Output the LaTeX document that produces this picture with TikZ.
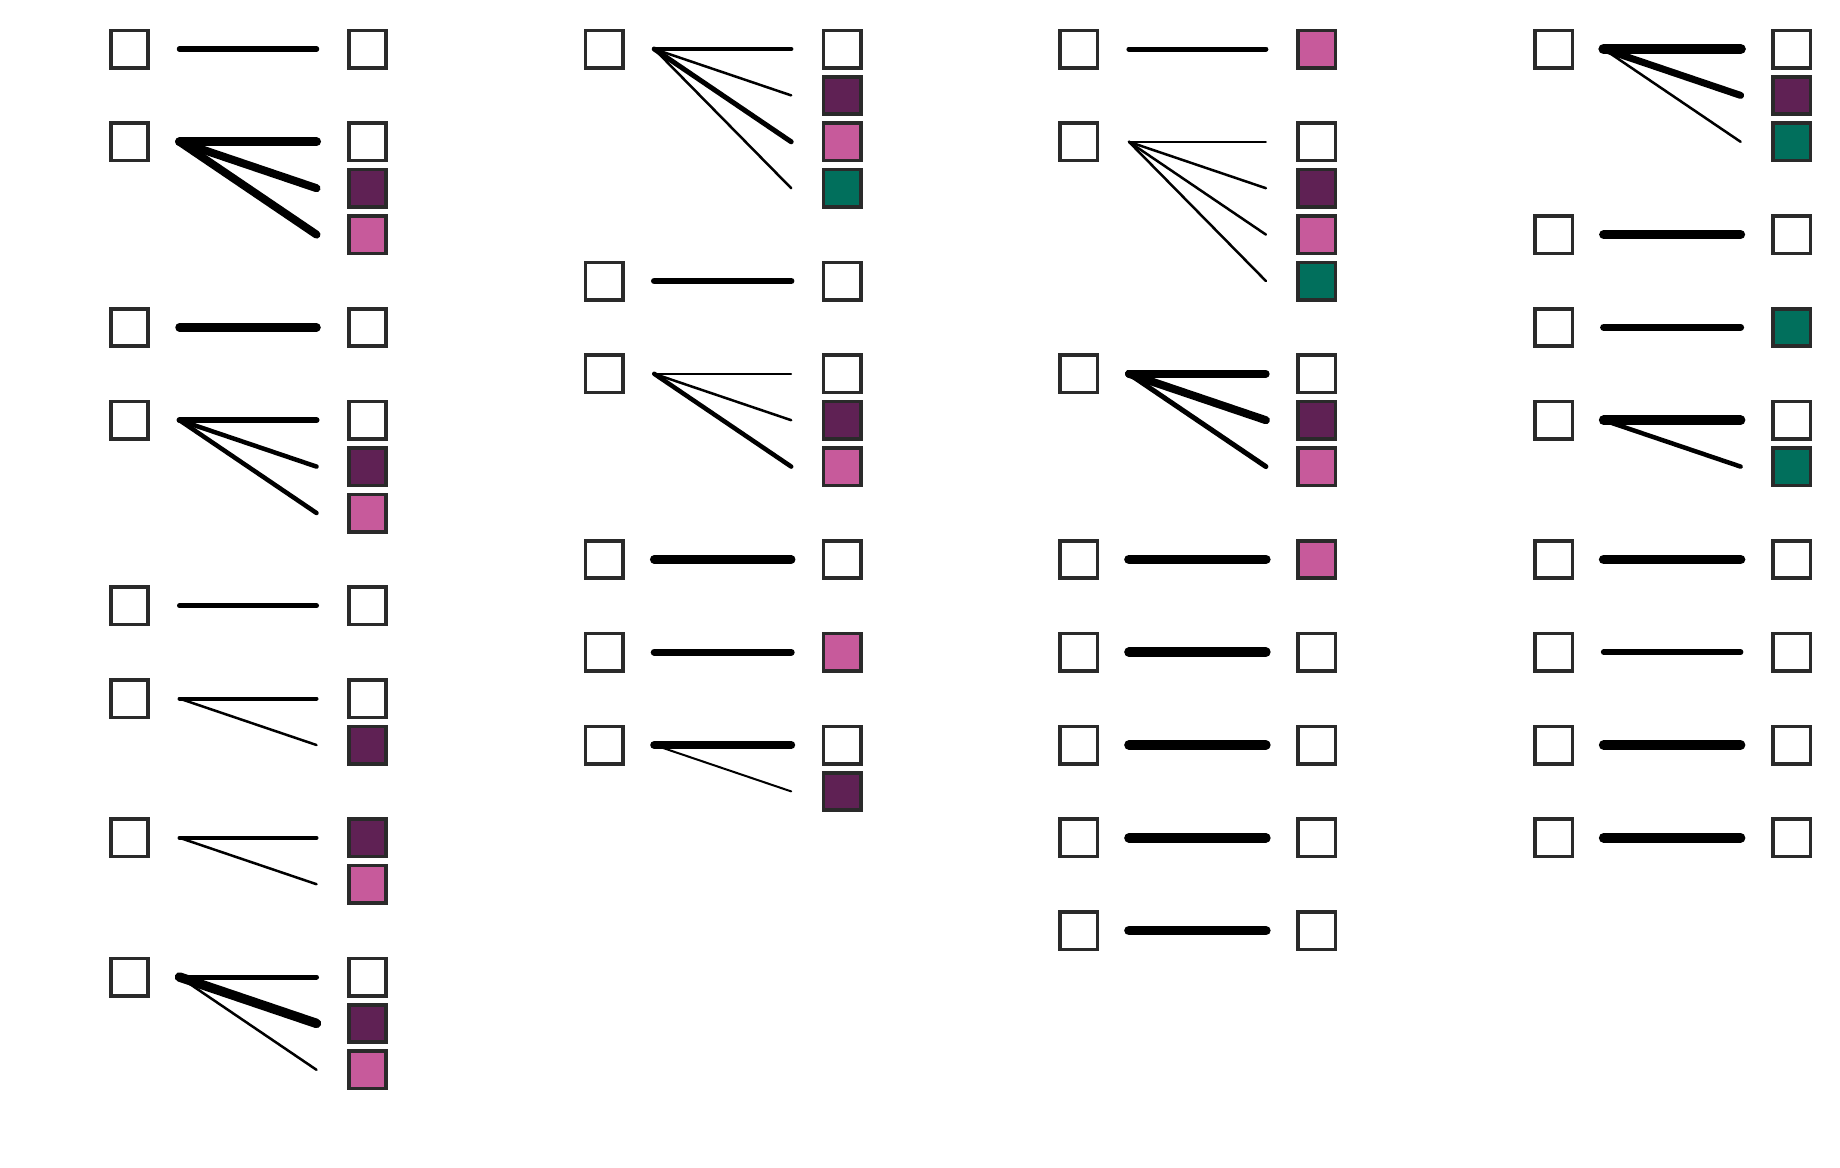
\documentclass[tikz,border=0pt]{standalone}
\definecolor{boxgray}{HTML}{2A2A2A}
\definecolor{purp}{HTML}{5F2154}
\definecolor{pinkc}{HTML}{C75A9B}
\definecolor{greenc}{HTML}{016F5C}
\tikzset{
  wb/.style={rectangle, draw=boxgray, line width=1.8pt, fill=white, minimum size=18.7pt, inner sep=0pt},
  pb/.style={wb, fill=purp},
  kb/.style={wb, fill=pinkc},
  gb/.style={wb, fill=greenc},
  lnk/.style={line cap=round, draw=black}
}
% source box: name, column, half-row
\newcommand\srcnode[3]{\node[wb] (#1) at ({129.5+474.7*#2},{49+46.4*#3}) {};}
% target box: name, column, half-row, style
\newcommand\dstnode[4]{\node[#4] (#1) at ({367.5+474.7*#2},{49+46.4*#3}) {};}
% connector: from, to, width
\newcommand\lnkk[3]{\draw[lnk, line width=#3] ([xshift=25pt]#1.center) -- ([xshift=-25.5pt]#2.center);}
\begin{document}
\begin{tikzpicture}[x=0.5pt, y=-0.5pt]
\fill[white] (0,0) rectangle (1840,1167);
\useasboundingbox (0,0) rectangle (1840,1167);
% ---------- column 0 ----------
\srcnode{a1}{0}{0} \dstnode{a1w}{0}{0}{wb}
\lnkk{a1}{a1w}{2.75pt}
\srcnode{a2}{0}{2} \dstnode{a2w}{0}{2}{wb} \dstnode{a2p}{0}{3}{pb} \dstnode{a2k}{0}{4}{kb}
\lnkk{a2}{a2w}{4.5pt} \lnkk{a2}{a2p}{4pt} \lnkk{a2}{a2k}{4pt}
\srcnode{a3}{0}{6} \dstnode{a3w}{0}{6}{wb}
\lnkk{a3}{a3w}{4.25pt}
\srcnode{a4}{0}{8} \dstnode{a4w}{0}{8}{wb} \dstnode{a4p}{0}{9}{pb} \dstnode{a4k}{0}{10}{kb}
\lnkk{a4}{a4w}{3pt} \lnkk{a4}{a4p}{2.25pt} \lnkk{a4}{a4k}{2.25pt}
\srcnode{a5}{0}{12} \dstnode{a5w}{0}{12}{wb}
\lnkk{a5}{a5w}{2.5pt}
\srcnode{a6}{0}{14} \dstnode{a6w}{0}{14}{wb} \dstnode{a6p}{0}{15}{pb}
\lnkk{a6}{a6w}{2pt} \lnkk{a6}{a6p}{1.25pt}
\srcnode{a7}{0}{17} \dstnode{a7p}{0}{17}{pb} \dstnode{a7k}{0}{18}{kb}
\lnkk{a7}{a7p}{2pt} \lnkk{a7}{a7k}{1.25pt}
\srcnode{a8}{0}{20} \dstnode{a8w}{0}{20}{wb} \dstnode{a8p}{0}{21}{pb} \dstnode{a8k}{0}{22}{kb}
\lnkk{a8}{a8w}{2.5pt} \lnkk{a8}{a8p}{4.75pt} \lnkk{a8}{a8k}{1.25pt}
% ---------- column 1 ----------
\srcnode{b1}{1}{0} \dstnode{b1w}{1}{0}{wb} \dstnode{b1p}{1}{1}{pb} \dstnode{b1k}{1}{2}{kb} \dstnode{b1g}{1}{3}{gb}
\lnkk{b1}{b1w}{2.25pt} \lnkk{b1}{b1p}{1.25pt} \lnkk{b1}{b1k}{2.5pt} \lnkk{b1}{b1g}{1.25pt}
\srcnode{b2}{1}{5} \dstnode{b2w}{1}{5}{wb}
\lnkk{b2}{b2w}{3.25pt}
\srcnode{b3}{1}{7} \dstnode{b3w}{1}{7}{wb} \dstnode{b3p}{1}{8}{pb} \dstnode{b3k}{1}{9}{kb}
\lnkk{b3}{b3w}{0.85pt} \lnkk{b3}{b3p}{1.25pt} \lnkk{b3}{b3k}{2.25pt}
\srcnode{b4}{1}{11} \dstnode{b4w}{1}{11}{wb}
\lnkk{b4}{b4w}{4.25pt}
\srcnode{b5}{1}{13} \dstnode{b5k}{1}{13}{kb}
\lnkk{b5}{b5k}{3.5pt}
\srcnode{b6}{1}{15} \dstnode{b6w}{1}{15}{wb} \dstnode{b6p}{1}{16}{pb}
\lnkk{b6}{b6w}{4pt} \lnkk{b6}{b6p}{1pt}
% ---------- column 2 ----------
\srcnode{c1}{2}{0} \dstnode{c1k}{2}{0}{kb}
\lnkk{c1}{c1k}{2.5pt}
\srcnode{c2}{2}{2} \dstnode{c2w}{2}{2}{wb} \dstnode{c2p}{2}{3}{pb} \dstnode{c2k}{2}{4}{kb} \dstnode{c2g}{2}{5}{gb}
\lnkk{c2}{c2w}{0.85pt} \lnkk{c2}{c2p}{1.25pt} \lnkk{c2}{c2k}{1.25pt} \lnkk{c2}{c2g}{1.25pt}
\srcnode{c3}{2}{7} \dstnode{c3w}{2}{7}{wb} \dstnode{c3p}{2}{8}{pb} \dstnode{c3k}{2}{9}{kb}
\lnkk{c3}{c3w}{3.75pt} \lnkk{c3}{c3p}{4pt} \lnkk{c3}{c3k}{2.5pt}
\srcnode{c4}{2}{11} \dstnode{c4k}{2}{11}{kb}
\lnkk{c4}{c4k}{4.75pt}
\srcnode{c5}{2}{13} \dstnode{c5w}{2}{13}{wb}
\lnkk{c5}{c5w}{4.75pt}
\srcnode{c6}{2}{15} \dstnode{c6w}{2}{15}{wb}
\lnkk{c6}{c6w}{4.75pt}
\srcnode{c7}{2}{17} \dstnode{c7w}{2}{17}{wb}
\lnkk{c7}{c7w}{4.75pt}
\srcnode{c8}{2}{19} \dstnode{c8w}{2}{19}{wb}
\lnkk{c8}{c8w}{4.75pt}
% ---------- column 3 ----------
\srcnode{d1}{3}{0} \dstnode{d1w}{3}{0}{wb} \dstnode{d1p}{3}{1}{pb} \dstnode{d1g}{3}{2}{gb}
\lnkk{d1}{d1w}{5.25pt} \lnkk{d1}{d1p}{3.5pt} \lnkk{d1}{d1g}{1.25pt}
\srcnode{d2}{3}{4} \dstnode{d2w}{3}{4}{wb}
\lnkk{d2}{d2w}{4.5pt}
\srcnode{d3}{3}{6} \dstnode{d3g}{3}{6}{gb}
\lnkk{d3}{d3g}{3.5pt}
\srcnode{d4}{3}{8} \dstnode{d4w}{3}{8}{wb} \dstnode{d4g}{3}{9}{gb}
\lnkk{d4}{d4w}{4.75pt} \lnkk{d4}{d4g}{2.25pt}
\srcnode{d5}{3}{11} \dstnode{d5w}{3}{11}{wb}
\lnkk{d5}{d5w}{4.75pt}
\srcnode{d6}{3}{13} \dstnode{d6w}{3}{13}{wb}
\lnkk{d6}{d6w}{2.75pt}
\srcnode{d7}{3}{15} \dstnode{d7w}{3}{15}{wb}
\lnkk{d7}{d7w}{4.75pt}
\srcnode{d8}{3}{17} \dstnode{d8w}{3}{17}{wb}
\lnkk{d8}{d8w}{4.75pt}
\end{tikzpicture}
\end{document}
